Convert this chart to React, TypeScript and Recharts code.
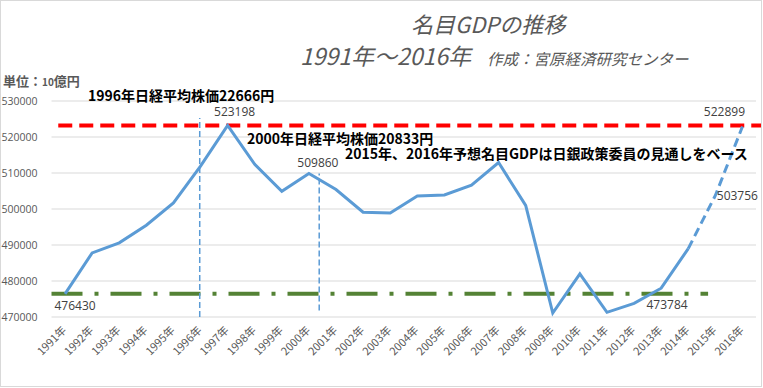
import React from "react";
import {
  LineChart, Line, XAxis, YAxis, CartesianGrid, ReferenceLine, LabelList,
} from "recharts";

const years = [
  "1991年", "1992年", "1993年", "1994年", "1995年", "1996年", "1997年", "1998年", "1999年",
  "2000年", "2001年", "2002年", "2003年", "2004年", "2005年", "2006年", "2007年", "2008年",
  "2009年", "2010年", "2011年", "2012年", "2013年", "2014年", "2015年", "2016年",
];

// 実績（1991〜2014）
const actual = [
  476430, 487800, 490600, 495500, 501700, 511900, 523198, 512400, 504900,
  509860, 505400, 499100, 498900, 503600, 503900, 506600, 512900, 501000,
  471100, 482000, 471300, 473784, 478000, 489000, null, null,
];

// 予想（2014〜2016、点線）
const forecast = [
  null, null, null, null, null, null, null, null, null,
  null, null, null, null, null, null, null, null, null,
  null, null, null, null, null, 489000, 503756, 522899,
];

const labeledActual = ["1991年", "1997年", "2000年", "2012年"];
const labeledForecast = ["2015年", "2016年"];

const peakLevel = 523198; // 1997年
const baseLevel = 476430; // 1991年
const yTicks = [470000, 480000, 490000, 500000, 510000, 520000, 530000];

// label offsets from the point (centre of text)
const labelPos: Record<number, [number, number]> = {
  476430: [10, 12],
  523198: [7, -14],
  509860: [9, -11],
  473784: [33, 1],
  503756: [22, 0],
  522899: [-18, -15],
};

const data = years.map((year, i) => ({
  year,
  actual: actual[i],
  forecast: forecast[i],
  lblA: labeledActual.includes(year) ? actual[i] : null,
  lblF: labeledForecast.includes(year) ? forecast[i] : null,
}));

const JP = "'Noto Sans CJK JP', 'Noto Sans', sans-serif";
const NUM = "'Open Sans', 'Noto Sans', sans-serif";
const GRAY = "#595959";
const BLUE = "#5b9bd5";

function XTick(props: any) {
  const { x, y, payload } = props;
  const ax = x + 2;
  const ay = y + 14;
  return (
    <text x={ax} y={ay} transform={`rotate(-45 ${ax} ${ay})`} textAnchor="end"
      fontSize={11} fill={GRAY} fontFamily={JP}>
      {payload.value}
    </text>
  );
}

function PointLabel(props: any) {
  const { x, y, value } = props;
  if (value == null || y == null || isNaN(y)) return null;
  const pos = labelPos[value];
  if (!pos) return null;
  return (
    <text x={x + pos[0]} y={y + pos[1]} textAnchor="middle" dominantBaseline="central"
      fontSize={12} fill="#404040" fontFamily={NUM}>
      {value}
    </text>
  );
}

const abs = (left: number, top: number, extra: React.CSSProperties = {}): React.CSSProperties => ({
  position: "absolute", left, top, whiteSpace: "nowrap", lineHeight: 1, ...extra,
});

export default function App() {
  return (
    <div style={{
      position: "absolute", left: 0, top: 0, width: 762, height: 387,
      border: "1px solid #d9d9d9", boxSizing: "border-box", background: "#fff", overflow: "hidden",
    }}>
      <div style={{ position: "absolute", left: -1, top: -1 }}>
        <LineChart width={763} height={388} data={data}
          margin={{ top: 101, right: 7, bottom: 11, left: 0 }}>
          <CartesianGrid vertical={false} stroke="#d9d9d9" />
          <XAxis dataKey="year" interval={0} height={60} tickLine={false} axisLine={false}
            padding={{ left: 13.55, right: 13.55 }}
            tickSize={0} tickMargin={0} tick={(p: any) => <XTick {...p} />} />
          {/* hidden 0–26 axis spanning the plot, for the annotation lines */}
          <XAxis xAxisId="n" type="number" domain={[0, 26]} allowDataOverflow hide />
          <YAxis domain={[470000, 530000]} ticks={yTicks} width={51.5} tickLine={false}
            axisLine={false} tickSize={0} tickMargin={14}
            tick={{ fontSize: 10.5, fill: GRAY, fontFamily: NUM }} />

          <ReferenceLine xAxisId="n" ifOverflow="visible"
            segment={[{ x: 0.24, y: peakLevel }, { x: 25.66, y: peakLevel }]}
            stroke="#ff0000" strokeWidth={4} strokeDasharray="14 7" />
          <ReferenceLine xAxisId="n" ifOverflow="visible"
            segment={[{ x: 0, y: baseLevel }, { x: 23.3, y: baseLevel }]}
            stroke="#548235" strokeWidth={4} strokeDasharray="31 12 4 12" />
          <ReferenceLine xAxisId="n" ifOverflow="visible"
            segment={[{ x: 5.26, y: 470000 }, { x: 5.26, y: 525300 }]}
            stroke={BLUE} strokeWidth={1.5} strokeDasharray="6 3" />
          <ReferenceLine xAxisId="n" ifOverflow="visible"
            segment={[{ x: 9.5, y: 471800 }, { x: 9.5, y: 509860 }]}
            stroke={BLUE} strokeWidth={1.5} strokeDasharray="6 3" />

          <Line dataKey="actual" stroke={BLUE} strokeWidth={3} dot={false}
            isAnimationActive={false}>
            <LabelList dataKey="lblA" content={PointLabel} />
          </Line>
          <Line dataKey="forecast" stroke={BLUE} strokeWidth={3} strokeDasharray="9 5" dot={false}
            isAnimationActive={false}>
            <LabelList dataKey="lblF" content={PointLabel} />
          </Line>
        </LineChart>
      </div>

      <div style={abs(410, 11, { fontFamily: JP, fontSize: 22, fontStyle: "italic", color: GRAY })}>
        名目GDPの推移
      </div>
      <div style={abs(299, 43, { fontFamily: JP, fontSize: 23, fontStyle: "italic", color: GRAY })}>
        1991年～2016年
      </div>
      <div style={abs(486, 50, { fontFamily: JP, fontSize: 15.5, fontStyle: "italic", color: GRAY })}>
        作成：宮原経済研究センター
      </div>
      <div style={abs(2, 73, { fontFamily: JP, fontSize: 13, fontWeight: 700, color: GRAY })}>
        単位：<span style={{ fontSize: 10 }}>10</span>億円
      </div>

      <div style={abs(87, 87, { fontFamily: JP, fontSize: 14, fontWeight: 700, color: "#000" })}>
        1996年日経平均株価22666円
      </div>
      <div style={abs(246, 130, { fontFamily: JP, fontSize: 14, fontWeight: 700, color: "#000" })}>
        2000年日経平均株価20833円
      </div>
      <div style={abs(344, 145, { fontFamily: JP, fontSize: 14, fontWeight: 700, color: "#000" })}>
        2015年、2016年予想名目GDPは日銀政策委員の見通しをベース
      </div>
    </div>
  );
}
